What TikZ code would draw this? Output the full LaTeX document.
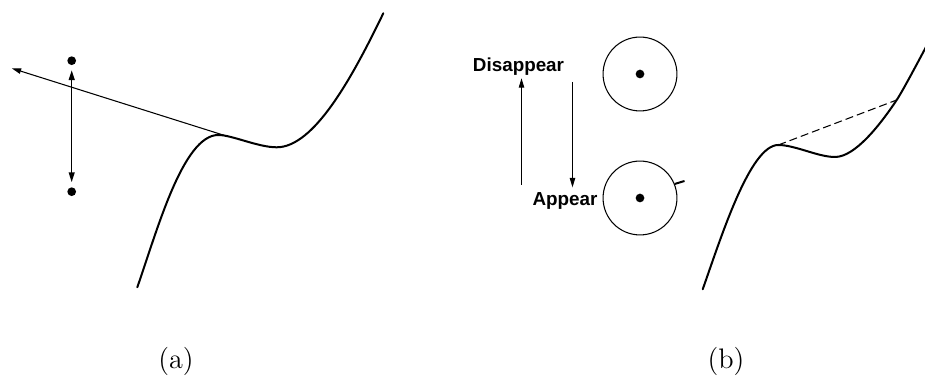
\documentclass[tikz,border=0pt]{standalone}
\usepackage{fontspec}
\newfontfamily\lblfont{Liberation Sans}
\usetikzlibrary{arrows.meta,positioning}
\tikzset{
  curve/.style={line width=0.85pt, line join=round, line cap=round},
  dot/.style={circle, fill=black, inner sep=0pt, minimum size=3.7pt},
  ring/.style={circle, draw=black, line width=0.45pt, inner sep=0pt, minimum size=31.4pt},
  thinarrow/.style={-{Triangle[length=4pt, width=2.3pt]}, line width=0.45pt},
  dblarrow/.style={{Triangle[length=4.2pt, width=2.5pt]}-{Triangle[length=4.2pt, width=2.5pt]}, line width=0.65pt, shorten <=2pt, shorten >=2pt},
  dashline/.style={line width=0.45pt, dash pattern=on 3.4pt off 1.7pt},
  lbl/.style={font=\lblfont\bfseries\fontsize{8}{10}\selectfont, inner sep=0pt, anchor=base},
  capt/.style={font=\large, inner sep=0pt, anchor=base}
}
\begin{document}
\begin{tikzpicture}[x=0.425pt, y=-0.425pt]
  \useasboundingbox (0,0) rectangle (925,376);
  % (a)
  \draw[curve] (137.3,287.3) .. controls (157,231) and (183,135) .. (218.3,135) coordinate (peakA)
    .. controls (232,135) and (258,147.3) .. (276.7,147.3) coordinate (minA)
    .. controls (314,147.3) and (352,78) .. (383.3,13.3);
  \coordinate (tp) at (225,135.6);
  \coordinate (tipA) at (11.7,68.3);
  \draw[thinarrow] (tp) -- (tipA);
  \node[dot] (dotT) at (71.7,60.7) {};
  \node[dot] (dotB) at (71.7,191.7) {};
  \draw[dblarrow] (dotT) -- (dotB);
  \node[capt] (captA) at (176,369) {(a)};
  % (b)
  \node[lbl] (dis) at (518.5,72) {Disappear};
  \node[lbl] (app) at (565,206) {Appear};
  \coordinate (upFrom) at (521.5,185);
  \coordinate (dnFrom) at (572.5,82);
  \draw[thinarrow, shorten >=0.8pt] (upFrom) -- (upFrom |- dis.south);
  \draw[thinarrow, shorten >=2.2pt] (dnFrom) -- (dnFrom |- app.north);
  \node[ring] (ringT) at (640,74) {};
  \node[dot] (cT) at (ringT.center) {};
  \node[ring] (ringB) at (640,198) {};
  \node[dot] (cB) at (ringB.center) {};
  \coordinate (tickEnd) at (684.5,181);
  \draw[line width=0.85pt] (ringB.22) -- (tickEnd);
  \begin{scope}
    \clip (0,0) rectangle (925,376);
    \draw[curve] (702.7,289.3) .. controls (721,237.6) and (750,145) .. (778.3,145) coordinate (peakB)
      .. controls (795,145) and (818,157) .. (835,157) coordinate (minB)
      .. controls (855,157) and (880,125) .. (896.7,100) coordinate (chordB)
      .. controls (905,87.5) and (932.6,34) .. (940,21);
  \end{scope}
  \draw[dashline] (peakB) -- (chordB);
  \node[capt] (captB) at (726,369) {(b)};
\end{tikzpicture}
\end{document}
